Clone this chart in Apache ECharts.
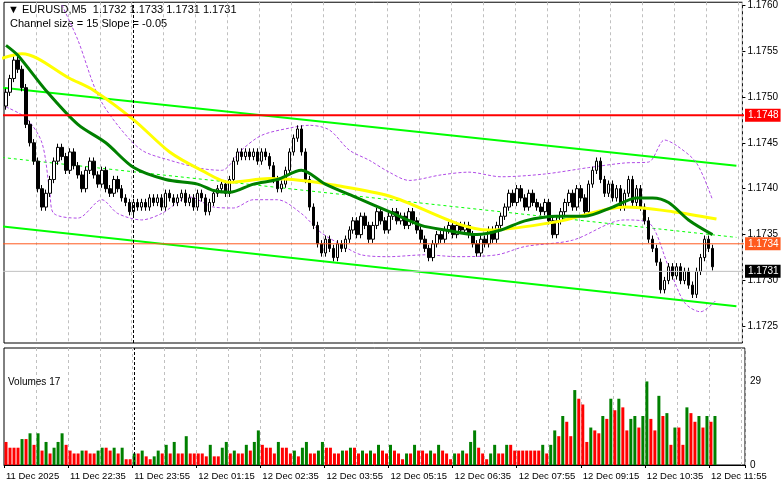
<!DOCTYPE html>
<html><head><meta charset="utf-8">
<script src="https://cdn.jsdelivr.net/npm/echarts@6/dist/echarts.min.js"></script>
<style>html,body{margin:0;padding:0;background:#fff}#c{width:781px;height:489px}</style>
</head><body><div id="c"></div>
<script>
const closes=[1.17505,1.17520,1.17540,1.17530,1.17510,
1.17470,1.17450,1.17430,1.17400,1.17380,1.17395,
1.17410,1.17430,1.17445,1.17435,1.17420,1.17440,1.17425,1.17415,
1.17400,1.17420,1.17430,1.17415,1.17405,1.17420,
1.17400,1.17395,1.17410,1.17400,1.17390,1.17385,
1.17375,1.17385,1.17380,1.17385,1.17380,1.17390,
1.17385,1.17390,1.17380,1.17395,1.17390,1.17385,1.17390,1.17395,1.17385,1.17390,1.17380,1.17395,1.17390,
1.17375,1.17385,1.17395,1.17400,
1.17405,1.17395,1.17410,
1.17430,1.17440,1.17435,1.17440,1.17435,1.17440,1.17430,1.17440,1.17435,1.17425,
1.17410,1.17400,1.17405,1.17420,
1.17440,1.17455,1.17465,1.17440,
1.17410,1.17380,1.17360,1.17340,1.17330,1.17345,1.17335,
1.17325,1.17340,1.17335,1.17345,
1.17355,1.17365,1.17350,1.17370,1.17360,1.17345,1.17360,1.17375,1.17365,1.17355,1.17370,
1.17375,1.17365,1.17370,1.17360,1.17375,1.17365,1.17355,1.17345,
1.17335,1.17325,1.17340,1.17350,1.17345,
1.17355,1.17360,1.17350,1.17360,1.17355,1.17360,1.17350,
1.17340,1.17330,1.17345,1.17340,
1.17355,1.17345,1.17360,1.17370,
1.17380,1.17395,1.17385,1.17400,1.17390,1.17380,1.17395,
1.17385,1.17380,1.17375,1.17385,
1.17365,1.17350,1.17365,1.17375,
1.17385,1.17395,1.17380,1.17400,1.17390,1.17375,
1.17405,1.17420,1.17430,1.17410,
1.17395,1.17405,1.17390,1.17400,
1.17380,1.17395,1.17410,1.17385,1.17400,1.17380,
1.17365,1.17345,1.17335,1.17320,
1.17290,1.17300,1.17315,
1.17305,1.17315,1.17300,1.17310,1.17295,
1.17285,1.17310,1.17325,
1.17345,1.17335,1.17315];
const firstOpen=1.17490;
const volumes=[8,6,6,6,9,9,11,7,11,5,8,4,6,8,11,7,
5,4,4,5,5,4,4,5,6,6,5,6,4,6,2,2,
4,4,5,3,2,3,5,4,7,4,8,4,4,10,4,4,
4,4,3,7,3,3,6,8,4,5,4,4,7,5,8,12,
7,6,6,4,8,6,6,4,5,3,6,8,4,4,5,8,
6,6,4,4,5,5,6,6,4,5,4,5,4,7,5,4,
7,5,4,2,4,4,7,5,5,4,5,4,7,5,4,2,
4,4,5,4,8,12,6,4,2,4,7,4,4,7,7,5,
5,5,5,5,5,5,7,4,7,12,10,
17,15,10,26,23,21,8,13,12,11,17,16,23,19,23,20,12,16,17,13,17,29,16,12,24,17,18,7,13,13,7,20,18,15,17,13,17,15,17];
const timeLabels=["11 Dec 2025","11 Dec 22:35","11 Dec 23:55","12 Dec 01:15","12 Dec 02:35","12 Dec 03:55","12 Dec 05:15","12 Dec 06:35","12 Dec 07:55","12 Dec 09:15","12 Dec 10:35","12 Dec 11:55"];
const priceTicks=[1.1725,1.1730,1.1735,1.1740,1.1745,1.1750,1.1755,1.1760];
const maFast=[[0,1.17556],[3,1.17545],[10,1.17507],[18,1.1747],[25,1.1745],[32,1.17423],[40,1.1741],[48,1.17405],[52,1.17398],[56,1.17396],[62,1.17405],[68,1.1741],[74,1.1742],[80,1.17405],[88,1.1739],[96,1.17375],[104,1.1736],[110,1.17355],[118,1.1735],[124,1.17355],[130,1.17365],[138,1.1737],[145,1.1737],[152,1.1738],[158,1.1739],[162,1.1739],[166,1.17385],[171,1.17366],[177,1.1735]];
const maSlow=[[-1,1.17542],[4,1.17547],[16,1.1752],[22,1.17507],[32,1.17475],[41,1.1744],[49,1.1742],[56,1.17407],[66,1.17411],[74,1.17409],[82,1.17404],[96,1.17392],[121,1.17355],[138,1.17364],[155,1.1738],[167,1.17375],[178,1.17367]];
const bandUpper=[[14,1.1760],[18,1.17562],[23,1.17502],[28,1.17469],[34,1.17442],[41,1.17431],[49,1.17422],[54,1.1742],[59,1.17442],[64,1.17458],[71,1.17466],[76,1.17469],[81,1.17464],[86,1.17442],[91,1.17431],[96,1.17418],[101,1.17409],[109,1.17415],[116,1.17418],[124,1.17413],[135,1.17416],[146,1.17423],[155,1.17428],[161,1.17429],[165,1.17453],[168,1.17447],[173,1.17428],[177,1.17388]];
const bandLower=[[0,1.17489],[5,1.17477],[9,1.1745],[11,1.17395],[12,1.17373],[18,1.17368],[24,1.17388],[28,1.17373],[34,1.17366],[39,1.17373],[46,1.17391],[52,1.1738],[57,1.17379],[62,1.17388],[68,1.17388],[74,1.17373],[79,1.17352],[84,1.17339],[89,1.17328],[96,1.17326],[105,1.17328],[113,1.17326],[123,1.17328],[130,1.17337],[142,1.17344],[155,1.17366],[161,1.17363],[166,1.17315],[170,1.17276],[174,1.17266],[178,1.17279]];
const chanUpper=[[-1,1.17510],[183,1.17425]];
const chanLower=[[-1,1.17359],[183,1.17272]];
const chanMid=[[-1,1.17434],[183,1.17347]];
const levelRed=1.1748, levelOrange=1.1734, levelLast=1.1731;

const N=185;
const cats=[];for(let i=0;i<N;i++)cats.push(i%16===0&&timeLabels[i/16]?timeLabels[i/16]:'');
const ohlc=[];let prev=firstOpen;
closes.forEach(c=>{const o=prev;ohlc.push([o,c,Math.min(o,c)-0.00004,Math.max(o,c)+0.00004]);prev=c;});
const vol=volumes.map((v,i)=>({value:v,itemStyle:{color:(i>0&&v>volumes[i-1])?'#008000':'#ff0000'}}));
const F='Liberation Sans';
const gridLines=priceTicks.map(p=>({yAxis:p}));
const chart=echarts.init(document.getElementById('c'));
const lineS=(data,color,w,type)=>({type:'line',data,symbol:'none',smooth:0.3,lineStyle:{color,width:w,type:type||'solid'},silent:true,animation:false,z:3});
const levelSeries=(v,color,w,bg)=>({type:'line',data:[[-1,v],[N-0.5,v]],symbol:'none',silent:true,z:7,
  lineStyle:{color,width:w},
  endLabel:{show:true,formatter:()=>v.toFixed(4),backgroundColor:bg,color:'#fff',fontFamily:F,fontSize:10,padding:[2,2,1,3],distance:1}});
chart.setOption({
animation:false,
grid:[{left:4,right:36,top:2,height:341,show:true,borderColor:'#000',borderWidth:1},
{left:4,right:36,top:348,height:117,show:true,borderColor:'#000',borderWidth:1}],
xAxis:[{type:'category',data:cats,gridIndex:0,boundaryGap:true,axisLine:{show:false},axisTick:{show:false},axisLabel:{show:false},
 splitLine:{show:true,interval:(i)=>i%8===0&&i>0,lineStyle:{color:'#c0c0c0',type:[3,3]}}},
{type:'category',data:cats,gridIndex:1,boundaryGap:true,axisLine:{show:true,lineStyle:{color:'#000'}},axisTick:{show:true,interval:(i)=>i%16===0,length:3,lineStyle:{color:'#000'}},
 axisLabel:{interval:(i)=>i%16===0,align:'left',margin:6,fontFamily:F,fontSize:9.5,color:'#000',hideOverlap:false},
 splitLine:{show:true,interval:(i)=>i%8===0&&i>0,lineStyle:{color:'#c0c0c0',type:[3,3]}}}],
yAxis:[{type:'value',gridIndex:0,position:'right',min:1.17232,max:1.17603,splitLine:{show:false},axisLine:{show:false},
 axisTick:{show:true,customValues:priceTicks,length:3,lineStyle:{color:'#000'}},
 axisLabel:{customValues:priceTicks,formatter:v=>v.toFixed(4),fontFamily:F,fontSize:10,color:'#000',margin:5}},
{type:'value',gridIndex:1,position:'right',min:0,max:40.6,splitLine:{show:false},axisLine:{show:false},
 axisTick:{show:false},axisLabel:{customValues:[0,29],fontFamily:F,fontSize:10,color:'#000',margin:5}}],
series:[
{type:'line',data:[],markLine:{silent:true,symbol:'none',label:{show:false},lineStyle:{color:'#c0c0c0',type:[3,3],width:1},data:gridLines},z:1},
levelSeries(levelRed,'#ff0000',2,'#ff0000'),
levelSeries(levelOrange,'#ff5a1e',1,'#ff5a1e'),
levelSeries(levelLast,'#c0c0c0',1,'#000'),
{type:'line',data:[],z:2,markLine:{silent:true,symbol:'none',label:{show:false},lineStyle:{color:'#000',width:1,type:[3,2]},data:[{xAxis:32}]}},
lineS(chanUpper,'#00ff00',2),lineS(chanLower,'#00ff00',2),lineS(chanMid,'#00ff00',1,[3,3]),
lineS(bandUpper,'#b04be6',1,[3,2]),lineS(bandLower,'#b04be6',1,[3,2]),
{type:'candlestick',data:ohlc,barWidth:3,itemStyle:{color:'#fff',color0:'#000',borderColor:'#000',borderColor0:'#000',borderWidth:1},z:4},
{...lineS(maSlow,'#ffff00',3),z:5},{...lineS(maFast,'#008000',3),z:6},
{type:'bar',xAxisIndex:1,yAxisIndex:1,data:vol,barWidth:3,z:3,
 markLine:{silent:true,symbol:'none',label:{show:false},lineStyle:{color:'#000',width:1,type:[3,2]},data:[{xAxis:32}]}}
],
graphic:[
{type:'text',left:8,top:4,style:{text:'▼ EURUSD,M5  1.1732 1.1733 1.1731 1.1731',font:'11px "Liberation Sans"',fill:'#000'}},
{type:'text',left:10,top:18,style:{text:'Channel size = 15 Slope = -0.05',font:'11px "Liberation Sans"',fill:'#000'}},
{type:'text',left:8,top:377,style:{text:'Volumes 17',font:'10px "Liberation Sans"',fill:'#000'}}
]});
</script></body></html>
